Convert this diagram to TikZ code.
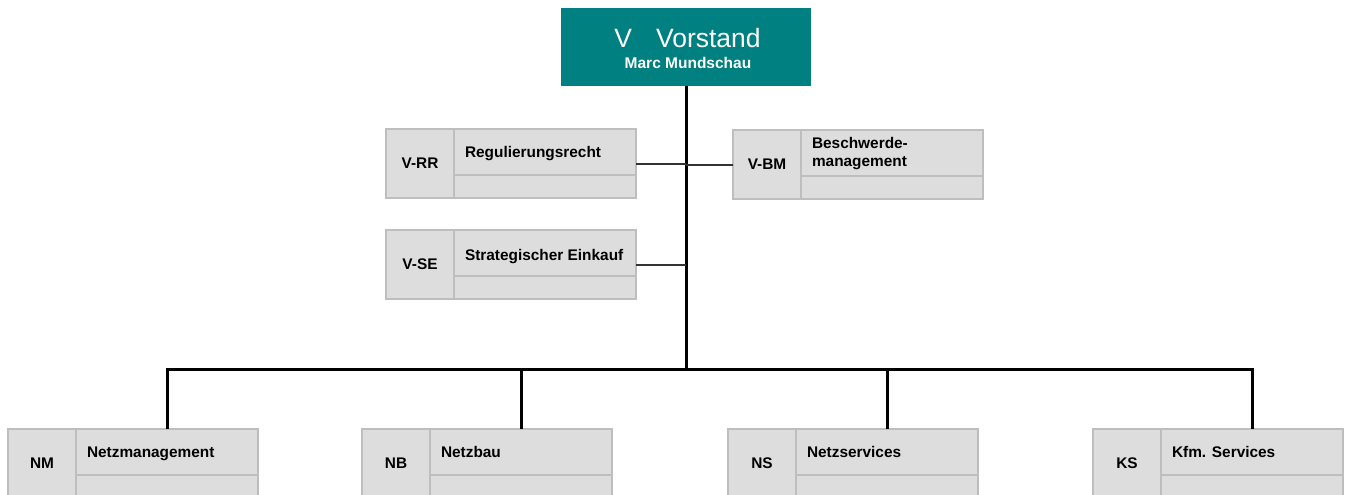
\documentclass[tikz,border=0pt]{standalone}
\usepackage{fontspec}
\setmainfont{Liberation Sans}
\usetikzlibrary{calc}
\definecolor{teal}{RGB}{0,128,128}
\definecolor{cellfill}{RGB}{221,221,221}
\definecolor{cellline}{RGB}{190,190,190}
\tikzset{
  unitbox/.style={draw=none, minimum width=250pt, minimum height=69pt, inner sep=0pt, outer sep=0pt},
  cellbase/.style={draw=cellline, fill=cellfill, line width=1.8pt, inner sep=0pt, outer sep=0pt},
  codecell/.style={cellbase, minimum width=68pt, minimum height=69pt, font=\fontsize{15.4}{18}\selectfont\bfseries},
  titlecell/.style={cellbase, minimum width=182pt, minimum height=46pt},
  subcell/.style={cellbase, minimum width=182pt, minimum height=23pt},
  titletext/.style={inner sep=0pt, outer sep=0pt, align=left, font=\fontsize{15.4}{18}\selectfont\bfseries},
  trunk/.style={line width=3pt, black},
  side/.style={line width=2pt, black!80},
  headbox/.style={fill=teal, draw=none, minimum width=250pt, minimum height=78pt, inner sep=0pt, outer sep=0pt},
}
\newcommand{\orgunit}[6]{%
  \node[unitbox, anchor=north west] (#1) at (#2,#3) {};
  \node[codecell, anchor=north west] (#1-code) at (#1.north west) {#4};
  \node[titlecell, anchor=north west] (#1-title) at (#1-code.north east) {};
  \node[subcell, anchor=north west] (#1-sub) at (#1-title.south west) {};
  \node[titletext, anchor=base west] (#1-text) at ($(#1-title.north west)+(11,-#6)$) {#5};
}
\begin{document}
\begin{tikzpicture}[x=1pt,y=1pt]
\useasboundingbox (0,0) rectangle (1347,-495);
\clip (0,0) rectangle (1347,-495);
\fill[white] (0,0) rectangle (1347,-495);

% head
\node[headbox, anchor=north west] (top) at (561,-8) {};
\node[anchor=base, inner sep=0pt, text=white, font=\fontsize{26.5}{30}\selectfont] (top-name) at (687.5,-47.7) {V\hspace{24pt}Vorstand};
\node[anchor=base, inner sep=0pt, text=white, font=\fontsize{15.5}{18}\selectfont\bfseries] (top-person) at (688,-69) {Marc Mundschau};

% staff units
\orgunit{rr}{386}{-129}{V-RR}{Regulierungsrecht}{28}
\orgunit{bm}{733}{-130}{V-BM}{Beschwerde-\\management}{36}
\orgunit{se}{386}{-230}{V-SE}{Strategischer Einkauf}{30}

% line units
\orgunit{nm}{8}{-429}{NM}{Netzmanagement}{28}
\orgunit{nb}{362}{-429}{NB}{Netzbau}{28}
\orgunit{ns}{728}{-429}{NS}{Netzservices}{28}
\orgunit{ks}{1093}{-429}{KS}{Kfm. Services}{28}

% connectors
\coordinate (bus) at (686,-369);
\draw[trunk] (top.south) -- (bus);
\draw[trunk] (nm-title.north) -- (nm-title.north |- bus) -- (ks-title.north |- bus) -- (ks-title.north);
\draw[trunk] (nb-title.north |- bus) -- (nb-title.north);
\draw[trunk] (ns-title.north |- bus) -- (ns-title.north);
\draw[side] (rr.east) -- (rr.east -| top.south);
\draw[side] (bm.west) -- (bm.west -| top.south);
\draw[side] (se.east) -- (se.east -| top.south);
\end{tikzpicture}
\end{document}
